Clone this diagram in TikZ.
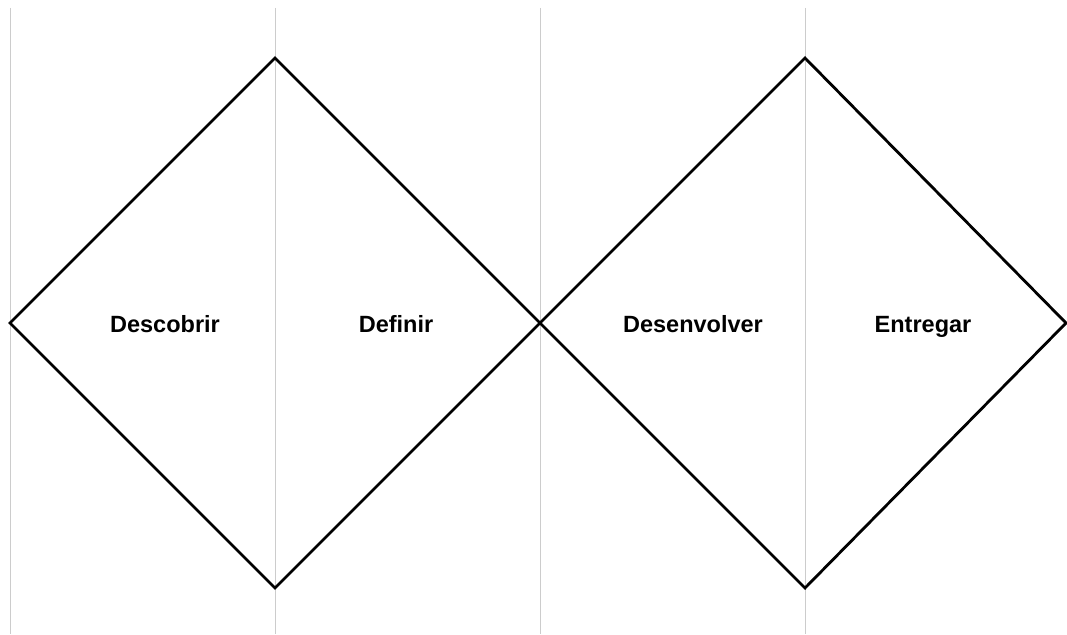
\documentclass[tikz,border=0pt]{standalone}
\usepackage{fontspec}
\setmainfont{Liberation Sans}
\begin{document}
\begin{tikzpicture}[x=1pt,y=-1pt,
  guide/.style={draw=black!20,line width=0.9pt},
  diam/.style={draw=black,line width=2.8pt,line join=miter},
  lbl/.style={font=\bfseries\fontsize{23.5}{27}\selectfont,text=black,inner sep=0pt,anchor=base}]
\useasboundingbox (0,0) rectangle (1067,634);
\coordinate (g1t) at (10,8);   \coordinate (g1b) at (10,634);
\coordinate (g2t) at (275,8);  \coordinate (g2b) at (275,634);
\coordinate (g3t) at (540,8);  \coordinate (g3b) at (540,634);
\coordinate (g4t) at (805,8);  \coordinate (g4b) at (805,634);
\draw[guide] (g1t) -- (g1b);
\draw[guide] (g2t) -- (g2b);
\draw[guide] (g3t) -- (g3b);
\draw[guide] (g4t) -- (g4b);
\coordinate (aL) at (10,323);  \coordinate (aT) at (275,58);
\coordinate (mid) at (540,323); \coordinate (aB) at (275,588);
\coordinate (bT) at (805,58);  \coordinate (bR) at (1066,323);
\coordinate (bB) at (805,588);
\draw[diam] (aL) -- (aT) -- (mid) -- (aB) -- cycle;
\draw[diam] (mid) -- (bT) -- (bR) -- (bB) -- cycle;
\node[lbl] (descobrir) at (165,332) {Descobrir};
\node[lbl] (definir) at (396,332) {Definir};
\node[lbl] (desenvolver) at (693,332) {Desenvolver};
\node[lbl] (entregar) at (923,332) {Entregar};
\end{tikzpicture}
\end{document}
